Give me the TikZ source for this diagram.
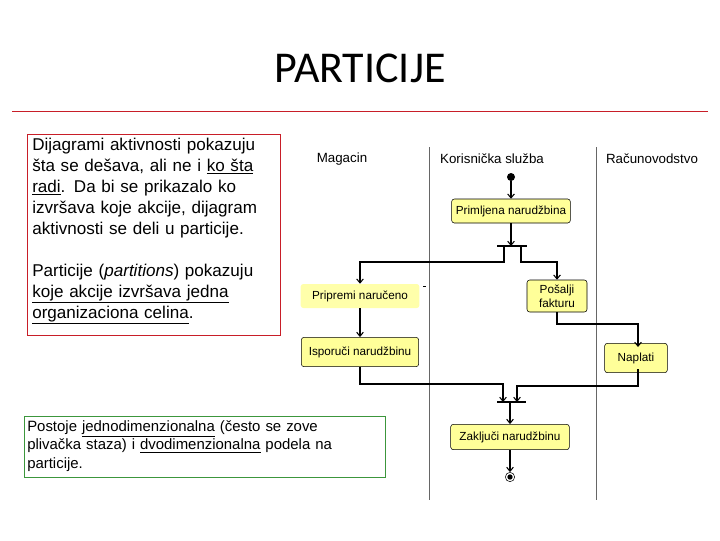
\documentclass[tikz,border=0pt]{standalone}
\usepackage{fontspec}
\setmainfont{Liberation Sans}
\newfontfamily\titlefont{Carlito}
\usepackage{tikz}
\usetikzlibrary{positioning,arrows.meta}
\definecolor{actfill}{RGB}{255,255,153}
\definecolor{softfill}{RGB}{255,255,170}
\definecolor{titlered}{RGB}{200,30,40}
\definecolor{boxgreen}{RGB}{60,150,60}

\begin{document}
\begin{tikzpicture}[x=0.75pt,y=-0.75pt,
    action/.style = {draw, fill=actfill, rounded corners=2pt, font=\fontsize{8.8}{10.5}\selectfont,
      inner sep=2pt, align=center},
    flow/.style = {draw, thick, -{Straight Barb[length=3pt,width=5pt]}},
    bar/.style = {line width=2pt},
    lane/.style = {draw=black!60, line width=0.6pt},
    header/.style = {font=\fontsize{10}{12}\selectfont}]
  \useasboundingbox (0,0) rectangle (720,540);
  % title
  \node (title) at (360,68) {\titlefont\fontsize{33}{38}\selectfont PARTICIJE};
  \draw[titlered] (12,111) -- (708,111);
  % text boxes
  \draw[titlered] (27,134) rectangle (280,335);
  \node (intro) [anchor=north west, align=left, text width=188pt, inner sep=0pt,
    font=\fontsize{12.8}{15.7}\selectfont] at (32,138)
    {Dijagrami aktivnosti pokazuju šta se dešava, ali ne i \underline{ko šta} \underline{radi}. Da bi se prikazalo ko izvršava koje akcije, dijagram aktivnosti se deli u particije.\\[15.7pt]
    Particije (\textit{partitions}) pokazuju \underline{koje akcije izvršava jedna} \underline{organizaciona celina}.};
  \draw[boxgreen] (24,416) rectangle (385,477);
  \node (note) [anchor=north west, align=left, text width=235pt, inner sep=0pt,
    font=\fontsize{11.2}{14}\selectfont] at (27,420)
    {Postoje \underline{jednodimenzionalna} (često se zove plivačka staza) i \underline{dvodimenzionalna} podela na particije.};
  % swimlanes
  \draw[lane] (429,147) -- (429,500);
  \draw[lane] (596,147) -- (596,500);
  \node (magacin) [header] at (342,159) {Magacin};
  \node (sluzba)  [header] at (492,159) {Korisnička služba};
  \node (racun)   [header] at (652,159) {Računovodstvo};
  % activities
  \node (start) [circle, fill, inner sep=0, minimum size=6pt] at (511,177) {};
  \node (primljena) [action, minimum width=89pt, minimum height=18pt] at (511,211) {Primljena narudžbina};
  \coordinate (fork) at (511,246);
  \node (pripremi) [action, draw=none, fill=softfill, minimum width=89pt, minimum height=18pt] at (360,296) {Pripremi naručeno};
  \node (posalji) [action, minimum width=45pt, minimum height=24pt] at (557,296) {Pošalji\\fakturu};
  \node (isporuci) [action, minimum width=88pt, minimum height=22pt] at (360,352) {Isporuči narudžbinu};
  \node (naplati) [action, minimum width=47pt, minimum height=22pt] at (636,358) {Naplati};
  \coordinate (join) at (511,402);
  \node (zakljuci) [action, minimum width=89pt, minimum height=19pt] at (510,437) {Zaključi narudžbinu};
  \node (end) [circle, draw, inner sep=0, minimum size=7pt] at (510,477) {};
  \node (endcore) [circle, fill, inner sep=0, minimum size=4pt] at (end) {};
  \draw (423,286) -- (426,286);
  % bars
  \draw[bar] (497,246) -- (527,246);
  \draw[bar] (497,402) -- (526,402);
  % flows
  \draw[flow] (start) -- (primljena);
  \draw[flow] (primljena) -- (fork);
  \draw[flow] (504,246) |- (360,262) -- (pripremi);
  \draw[flow] (521,246) |- (557,262) -- (posalji);
  \draw[flow] (pripremi) -- (isporuci);
  \draw[flow] (posalji.south) |- (638,324) -- (638,347);
  \draw[flow] (isporuci.south) |- (503,384) -- (503,402);
  \draw[flow] (638,369) |- (517,386) -- (517,402);
  \draw[flow] (510,402) -- (zakljuci);
  \draw[flow] (zakljuci) -- (end);
\end{tikzpicture}
\end{document}
